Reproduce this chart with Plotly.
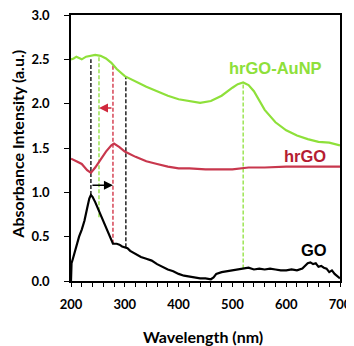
import plotly.graph_objects as go

# Спектры поглощения
go_nm = [200, 201, 203, 210, 215, 220, 225, 230, 234, 237, 240, 245, 250, 255, 260,
         265, 270, 275, 278, 285, 290, 295, 300, 305, 310, 320, 330, 340, 350, 360,
         370, 380, 390, 400, 410, 420, 430, 440, 450, 460, 465, 470, 480, 490, 500,
         510, 520, 530, 540, 550, 560, 570, 580, 590, 600, 610, 620, 630, 640, 645,
         650, 655, 660, 665, 670, 675, 680, 685, 690, 695, 700]
go_abs = [0.00, 0.20, 0.24, 0.40, 0.50, 0.58, 0.68, 0.82, 0.93, 0.97, 0.95, 0.89, 0.82, 0.74, 0.66,
          0.59, 0.52, 0.46, 0.42, 0.42, 0.41, 0.39, 0.38, 0.37, 0.34, 0.30, 0.27, 0.25, 0.23, 0.19,
          0.16, 0.13, 0.11, 0.08, 0.06, 0.05, 0.04, 0.03, 0.03, 0.02, 0.04, 0.08, 0.10, 0.11, 0.12,
          0.13, 0.14, 0.15, 0.13, 0.14, 0.13, 0.14, 0.13, 0.12, 0.12, 0.13, 0.12, 0.14, 0.20, 0.21,
          0.19, 0.20, 0.16, 0.17, 0.15, 0.14, 0.10, 0.12, 0.08, 0.06, 0.03]

hrgo_nm = [200, 205, 210, 220, 230, 237, 245, 255, 265, 275, 280, 290, 300, 320, 340,
           360, 380, 400, 420, 450, 480, 500, 530, 560, 600, 650, 700]
hrgo_abs = [1.38, 1.36, 1.35, 1.32, 1.25, 1.22, 1.28, 1.37, 1.46, 1.53, 1.55, 1.51, 1.46, 1.40, 1.35,
            1.32, 1.29, 1.27, 1.27, 1.26, 1.26, 1.26, 1.28, 1.28, 1.29, 1.29, 1.29]

au_nm = [200, 205, 210, 220, 228, 235, 245, 255, 265, 275, 285, 300, 320, 340, 360,
         380, 400, 420, 440, 460, 480, 500, 510, 520, 530, 540, 550, 560, 580, 600,
         620, 640, 660, 680, 700]
au_abs = [2.50, 2.51, 2.53, 2.50, 2.53, 2.54, 2.55, 2.54, 2.51, 2.46, 2.39, 2.31, 2.25, 2.19, 2.14,
          2.09, 2.05, 2.03, 2.01, 2.03, 2.09, 2.18, 2.22, 2.24, 2.21, 2.14, 2.03, 1.93, 1.79, 1.70,
          1.64, 1.60, 1.57, 1.56, 1.53]

# Вертикальные пунктирные маркеры пиков
mark_nm = [237, 302, 278, 252, 520]
mark_lo = [0.97, 0.38, 0.42, 0.72, 0.14]
mark_hi = [2.50, 2.30, 2.45, 2.55, 2.24]
mark_color = ['black', 'black', '#d0283c', '#8ee03a', '#8ee03a']

# Стрелки сдвига пиков: (от, до, уровень)
arrows = [(278, 252, 1.95, '#d0283c'), (237, 278, 1.08, 'black')]

# Подписи кривых
labels = [('hrGO-AuNP', 581, 2.40, '#8ee03a'),
          ('hrGO', 635, 1.41, '#b51d33'),
          ('GO', 652, 0.35, 'black')]

GREEN = '#8ee03a'
RED = '#c8374d'

fig = go.Figure()

for x, lo, hi, c in zip(mark_nm, mark_lo, mark_hi, mark_color):
    fig.add_trace(go.Scatter(
        x=[x, x], y=[lo, hi], mode='lines',
        line=dict(color=c, width=1.3, dash='4px,2px'),
        showlegend=False, hoverinfo='skip'
    ))

fig.add_trace(go.Scatter(x=au_nm, y=au_abs, mode='lines', name='hrGO-AuNP',
                         line=dict(color=GREEN, width=2.2)))
fig.add_trace(go.Scatter(x=hrgo_nm, y=hrgo_abs, mode='lines', name='hrGO',
                         line=dict(color=RED, width=2.2)))
fig.add_trace(go.Scatter(x=go_nm, y=go_abs, mode='lines', name='GO',
                         line=dict(color='black', width=2.2)))

for x0, x1, yv, c in arrows:
    fig.add_annotation(
        x=x1, y=yv, ax=x0, ay=yv, xref='x', yref='y', axref='x', ayref='y',
        text='', showarrow=True, arrowhead=2, arrowsize=1.2, arrowwidth=1.5,
        arrowcolor=c
    )

for txt, x, y, c in labels:
    fig.add_annotation(
        x=x, y=y, xref='x', yref='y', text=txt, showarrow=False,
        font=dict(family='Liberation Sans', size=16.5, color=c, weight='bold')
    )

title_font = dict(family='Lato', size=16, color='black', weight='bold')

# Подписи осей
fig.add_annotation(x=0.491, y=-0.207, xref='paper', yref='paper',
                   text='Wavelength (nm)', showarrow=False,
                   xanchor='center', yanchor='middle', font=title_font)
fig.add_annotation(x=-0.202, y=0.515, xref='paper', yref='paper',
                   text='Absorbance Intensity (a.u.)', showarrow=False, textangle=-90,
                   xanchor='center', yanchor='middle', font=title_font)

axis_font = dict(family='Lato', size=13, color='black', weight='bold')

# страница имеет отступ body 8px, поэтому поля сдвинуты
fig.update_layout(
    width=354, height=346,
    margin=dict(l=63, r=22, t=7, b=73),
    plot_bgcolor='white', paper_bgcolor='white',
    showlegend=False,
    xaxis=dict(
        range=[200, 700], dtick=100, showgrid=False, zeroline=False,
        showline=True, mirror=True, linecolor='black', linewidth=1.5,
        ticks='outside', ticklen=4, tickwidth=1.3, tickcolor='black',
        minor=dict(dtick=20, ticks='outside', ticklen=4, tickwidth=1.3, tickcolor='black'),
        tickfont=axis_font, ticklabelstandoff=7, automargin=False
    ),
    yaxis=dict(
        range=[0, 3.0], dtick=0.5, tickformat='.1f', showgrid=False, zeroline=False,
        showline=True, mirror=True, linecolor='black', linewidth=1.5,
        ticks='outside', ticklen=5, tickwidth=1.3, tickcolor='black',
        tickfont=axis_font, ticklabelstandoff=12, automargin=False,
        ticklabeloverflow='allow'
    ),
)

fig.write_html("out.html")
